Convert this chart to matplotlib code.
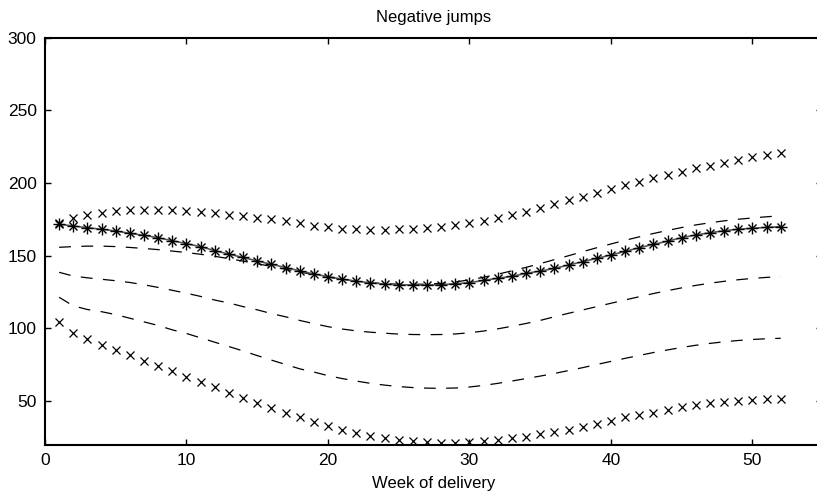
import matplotlib
matplotlib.use("Agg")
import matplotlib.pyplot as plt
import numpy as np

plt.rcParams['font.family'] = ['Liberation Sans', 'DejaVu Sans']
plt.rcParams['lines.scale_dashes'] = False

weeks = list(range(1, 53))

upper_x = [172.7, 175.7, 178.0, 179.6, 180.8, 181.3, 181.5, 181.5, 181.3, 180.8,
           180.1, 179.2, 178.2, 177.3, 176.2, 175.3, 174.1, 172.5, 170.6, 169.5,
           168.6, 168.2, 167.7, 167.7, 168.2, 168.6, 169.1, 170.0, 171.1, 172.3,
           174.0, 176.0, 178.0, 180.3, 183.1, 185.6, 188.3, 190.6, 193.4, 195.9,
           198.7, 201.0, 203.3, 205.5, 207.8, 210.1, 211.9, 214.0, 215.9, 217.7,
           219.3, 220.5]

mean_star = [171.8, 170.4, 169.3, 168.2, 167.0, 165.4, 164.0, 162.4, 160.3, 158.3,
             156.2, 153.5, 151.1, 148.8, 146.4, 144.1, 141.9, 139.6, 137.4, 135.6,
             133.9, 132.4, 131.4, 130.5, 129.9, 129.9, 129.8, 130.1, 130.7, 131.5,
             133.0, 134.5, 135.8, 137.9, 139.4, 141.3, 143.6, 145.9, 148.2, 150.5,
             153.0, 155.5, 157.8, 160.0, 162.4, 164.3, 165.8, 167.2, 168.2, 168.9,
             169.5, 170.0]

dash1 = [155.8, 156.3, 156.6, 156.6, 156.3, 155.7, 155.0, 154.2, 153.2, 152.2,
         151.0, 149.6, 148.0, 146.3, 144.5, 142.6, 140.7, 138.8, 137.0, 135.3,
         133.8, 132.5, 131.5, 130.8, 130.4, 130.3, 130.5, 131.0, 132.0, 133.4,
         135.2, 137.3, 139.6, 142.0, 144.6, 147.3, 150.0, 152.8, 155.5, 158.1,
         160.6, 163.0, 165.3, 167.4, 169.4, 171.2, 172.7, 174.0, 175.1, 176.0,
         176.8, 177.5]

dash2 = [138.6, 136.0, 134.8, 133.8, 132.8, 131.6, 130.0, 128.2, 126.2, 124.2,
         122.0, 119.5, 117.5, 115.0, 112.8, 110.2, 108.0, 105.5, 103.3, 101.2,
         99.6, 98.3, 97.4, 96.7, 96.1, 95.8, 95.7, 95.8, 96.2, 97.0,
         98.2, 99.7, 101.5, 103.4, 105.5, 108.0, 110.4, 112.7, 115.0, 117.3,
         119.6, 121.8, 124.0, 126.0, 127.9, 129.6, 131.1, 132.4, 133.5, 134.4,
         135.1, 135.6]

dash3 = [121.4, 115.5, 113.0, 111.5, 109.5, 107.0, 104.5, 102.0, 99.0, 96.5,
         93.5, 90.5, 87.5, 84.5, 81.3, 78.2, 75.2, 72.2, 70.0, 67.5,
         65.5, 63.8, 62.2, 61.0, 60.0, 59.3, 58.9, 58.8, 59.0, 59.7,
         60.8, 62.2, 63.8, 65.5, 67.2, 69.0, 71.0, 73.0, 75.2, 77.3,
         79.4, 81.4, 83.4, 85.2, 86.9, 88.4, 89.7, 90.8, 91.7, 92.4,
         92.9, 93.2]

lower_x = [104.6, 96.6, 92.5, 88.6, 85.1, 81.7, 77.8, 74.1, 70.7, 66.8,
           63.3, 59.5, 55.8, 51.9, 48.5, 45.0, 42.0, 38.8, 35.8, 33.0,
           30.3, 28.3, 26.3, 24.8, 23.4, 22.3, 21.6, 21.2, 21.4, 21.8,
           22.3, 23.2, 24.4, 25.5, 27.3, 28.9, 30.1, 32.4, 34.2, 36.5,
           38.8, 40.4, 42.0, 43.9, 45.7, 47.3, 48.5, 49.6, 50.3, 50.7,
           51.2, 51.2]

x_ticks = [0, 10, 20, 30, 40, 50]
y_ticks = [50, 100, 150, 200, 250, 300]

fig = plt.figure(figsize=(8.17, 4.91), dpi=100)
ax = fig.add_axes([45/817, 1-444.7/491, (821.5-45)/817, (444.7-37.7)/491])

dash_style = (8.5, 7.5)
for d in (dash1, dash2, dash3):
    ax.plot(weeks, d, color='black', lw=0.9, dashes=dash_style)

ax.plot(weeks, mean_star, color='#555555', lw=1.2)
ax.plot(weeks, mean_star, ls='none', marker='+', ms=8.5, mew=1.0, color='black')
ax.plot(weeks, mean_star, ls='none', marker='x', ms=6, mew=1.0, color='black')

ax.plot(weeks, upper_x, ls='none', marker='x', ms=6.3, mew=0.9, color='black')
ax.plot(weeks, lower_x, ls='none', marker='x', ms=6.3, mew=0.9, color='black')

ax.set_xlim(0, 54.88)
ax.set_ylim(20, 300)
ax.set_xticks(x_ticks)
ax.set_yticks(y_ticks)
ax.tick_params(direction='in', length=4, width=1, top=True, right=True,
               labelsize=12.5, pad=6)
for s in ax.spines.values():
    s.set_linewidth(1.5)
ax.set_title('Negative jumps', fontsize=12, pad=11)
ax.set_xlabel('Week of delivery', fontsize=12, labelpad=5.5)

fig.savefig('out.png', dpi=100)
